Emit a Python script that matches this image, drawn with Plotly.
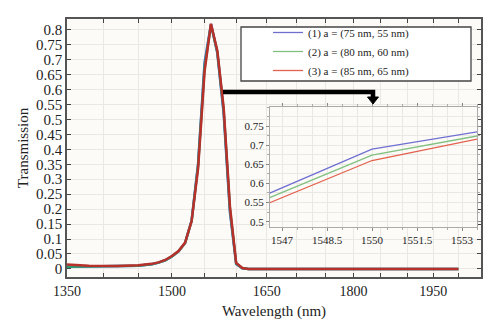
import plotly.graph_objects as go
import math

# ---------------- data ----------------
WAVELENGTH = [1350, 1380, 1420, 1450, 1470, 1480, 1490, 1500, 1510, 1520, 1530,
              1540, 1550, 1560, 1570, 1580, 1590, 1600, 1610, 1620, 1700, 1800,
              1900, 2000]
T_BLUE = [0.007, 0.008, 0.009, 0.011, 0.016, 0.021, 0.029, 0.042, 0.059, 0.087, 0.162,
          0.352, 0.690, 0.819, 0.722, 0.520, 0.190, 0.016, 0.002, 0.0, 0.0, 0.0,
          0.0, 0.0]
T_GREEN = [0.007, 0.008, 0.009, 0.011, 0.016, 0.021, 0.029, 0.042, 0.059, 0.087, 0.161,
           0.348, 0.674, 0.817, 0.726, 0.530, 0.200, 0.018, 0.002, 0.0, 0.0, 0.0,
           0.0, 0.0]
T_RED = [0.015, 0.011, 0.010, 0.012, 0.017, 0.022, 0.030, 0.043, 0.060, 0.088, 0.160,
         0.336, 0.660, 0.820, 0.730, 0.540, 0.210, 0.020, 0.003, 0.0, 0.0, 0.0,
         0.0, 0.0]
SERIES_NAMES = ["(1) a = (75 nm, 55 nm)", "(2) a = (80 nm, 60 nm)", "(3) a = (85 nm, 65 nm)"]

X_TICKS = [1350, 1500, 1650, 1800, 1950]
X_MINOR = list(range(1350, 2050, 50))
Y_TICKS = [round(0.05 * i, 2) for i in range(17)]
Y_TICKTEXT = ["0", "0.05", "0.1", "0.15", "0.2", "0.25", "0.3", "0.35", "0.4", "0.45",
              "0.5", "0.55", "0.6", "0.65", "0.7", "0.75", "0.8"]
INSET_X_TICKS = [1547, 1548.5, 1550, 1551.5, 1553]
INSET_Y_TICKS = [0.5, 0.55, 0.6, 0.65, 0.7, 0.75]
INSET_Y_TICKTEXT = ["0.5", "0.55", "0.6", "0.65", "0.7", "0.75"]

# ---------------- styling ----------------
W, H = 500, 335
L, R, T, B = 67, 481, 19, 277
FONT = "Liberation Serif"

def px(x):
    return (x - L) / (R - L)

def py(y):
    return (B - y) / (B - T)

MAIN_COLORS = ["#4262c8", "#2f9a72", "#b8302a"]
INSET_COLORS = ["#6f6fd2", "#80c080", "#e2604c"]

fig = go.Figure()
series = [T_BLUE, T_GREEN, T_RED]
for name, ys, c in zip(SERIES_NAMES, series, MAIN_COLORS):
    fig.add_trace(go.Scatter(x=WAVELENGTH, y=ys, mode="lines", name=name,
                             line=dict(color=c, width=2.5), showlegend=False,
                             xaxis="x", yaxis="y"))
for name, ys, c in zip(SERIES_NAMES, series, INSET_COLORS):
    fig.add_trace(go.Scatter(x=WAVELENGTH, y=ys, mode="lines", name=name,
                             line=dict(color=c, width=1.3), showlegend=True,
                             xaxis="x2", yaxis="y2"))

grid_c = "#ebe8e4"
fig.update_layout(
    width=W, height=H,
    margin=dict(l=L, r=W - R, t=T, b=H - B),
    paper_bgcolor="white",
    plot_bgcolor="#fcfbf7",
    font=dict(family=FONT, color="#222"),
    xaxis=dict(type="log", range=[math.log10(1350), math.log10(2046)],
               tickvals=X_TICKS, ticktext=[str(v) for v in X_TICKS],
               tickfont=dict(size=14), ticks="inside", ticklen=4, tickcolor="#444",
               showline=True, linecolor="#555", linewidth=1.5, mirror="ticks",
               showgrid=True, gridcolor=grid_c, gridwidth=1,
               minor=dict(tickvals=X_MINOR, ticks="inside", ticklen=4,
                          tickcolor="#444", showgrid=True, gridcolor=grid_c),
               title=dict(text="Wavelength (nm)", font=dict(size=15), standoff=8),
               zeroline=False, domain=[0, 1]),
    yaxis=dict(range=[-0.027, 0.836], tickvals=Y_TICKS, ticktext=Y_TICKTEXT,
               tickfont=dict(size=15), ticks="inside", ticklen=4, tickcolor="#444",
               showline=True, linecolor="#555", linewidth=1.5, mirror="ticks",
               showgrid=True, gridcolor=grid_c, gridwidth=1,
               title=dict(text="Transmission", font=dict(size=15), standoff=4),
               zeroline=False, domain=[0, 1]),
    xaxis2=dict(range=[1546.6, 1553.5], tickvals=INSET_X_TICKS,
                ticktext=[f"{v:g}" for v in INSET_X_TICKS],
                tickfont=dict(size=11), ticks="outside", ticklen=3, tickcolor="#888",
                showline=True, linecolor="#aaa", linewidth=1, mirror="ticks",
                showgrid=True, gridcolor=grid_c,
                minor=dict(dtick=0.5, tick0=1547, ticks="outside", ticklen=2,
                           tickcolor="#aaa", showgrid=True, gridcolor=grid_c),
                zeroline=False, anchor="y2", domain=[px(270), px(477)]),
    yaxis2=dict(range=[0.486, 0.80], tickvals=INSET_Y_TICKS, ticktext=INSET_Y_TICKTEXT,
                tickfont=dict(size=11), ticks="outside", ticklen=3, tickcolor="#888",
                showline=True, linecolor="#aaa", linewidth=1, mirror="ticks",
                showgrid=True, gridcolor=grid_c,
                minor=dict(dtick=0.025, tick0=0.5, ticks="outside", ticklen=2,
                           tickcolor="#aaa", showgrid=True, gridcolor=grid_c),
                zeroline=False, anchor="x2", domain=[py(227), py(107)]),
    legend=dict(x=px(268), y=py(18), xanchor="left", yanchor="top",
                bgcolor="rgba(0,0,0,0)", borderwidth=0,
                font=dict(size=11, family=FONT, color="#222"), tracegroupgap=0),
    shapes=[
        # white background under the inset
        dict(type="rect", xref="x2 domain", yref="y2 domain", x0=0, x1=1, y0=0, y1=1,
             fillcolor="white", line=dict(width=0), layer="below"),
        # legend frame
        dict(type="rect", xref="paper", yref="paper", x0=px(241), x1=px(471),
             y0=py(81), y1=py(27), fillcolor="white",
             line=dict(color="#444", width=1.3), layer="above"),
        # arrow
        dict(type="path", xref="paper", yref="paper",
             path=f"M{px(223)},{py(92)} L{px(373)},{py(92)} L{px(373)},{py(99)}",
             line=dict(color="black", width=4.5), layer="above"),
        dict(type="path", xref="paper", yref="paper",
             path=f"M{px(367.5)},{py(97)} L{px(378.5)},{py(97)} L{px(373)},{py(104)} Z",
             fillcolor="black", line=dict(color="black", width=1), layer="above"),
    ],
)

fig.write_html("out.html")
